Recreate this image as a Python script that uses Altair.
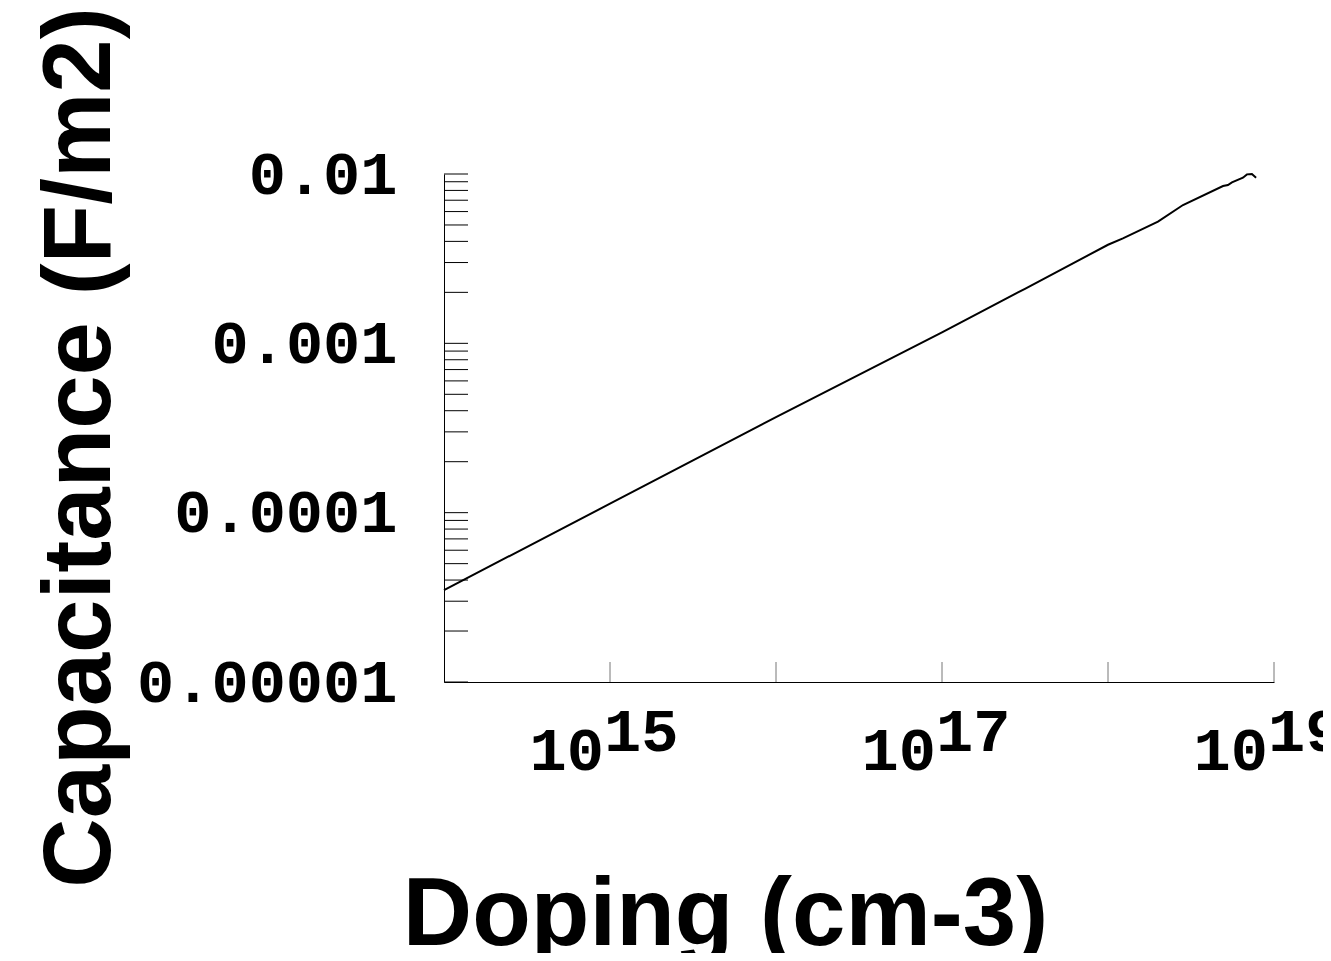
import altair as alt
import pandas as pd

# Line data
doping = [1.0e14, 1.0e15, 1.0e16, 1.0e17, 3.16e17, 1.0e18, 1.23e18, 2.0e18,
          2.83e18, 4.93e18, 5.28e18, 5.58e18, 6.50e18, 6.87e18, 7.36e18, 7.80e18]
capacitance = [3.49e-5, 1.13e-4, 3.67e-4, 1.16e-3, 2.10e-3, 3.82e-3, 4.17e-3, 5.23e-3,
               6.56e-3, 8.49e-3, 8.61e-3, 8.93e-3, 9.51e-3, 9.95e-3, 1.0e-2, 9.51e-3]

# Axis ticks / labels
x_ticks = [1e15, 1e16, 1e17, 1e18, 1e19]
x_label_values = [1e15, 1e17, 1e19]
x_label_base = ["10", "10", "10"]
x_label_exp = ["15", "17", "19"]
y_major = [1e-5, 1e-4, 1e-3, 1e-2]
y_decades = [1e-5, 1e-4, 1e-3]
y_mantissas = [1, 2, 3, 4, 5, 6, 7, 8, 9]
y_ticks = [m * d for d in y_decades for m in y_mantissas] + [1e-2]

W, H = 830, 508
TITLE_FONT = "Liberation Sans"
MONO = "Liberation Mono"

df = pd.DataFrame({"doping": doping, "capacitance": capacitance})
xt_df = pd.DataFrame({"doping": x_ticks})
yt_df = pd.DataFrame({"capacitance": y_ticks})
lab_df = pd.DataFrame({"doping": x_label_values, "base": x_label_base, "exp": x_label_exp})

xs = alt.Scale(type="log", domain=[1e14, 1e19], nice=False)
ys = alt.Scale(type="log", domain=[1e-5, 1e-2], nice=False)

line = alt.Chart(df).mark_line(color="black", strokeWidth=2, clip=False).encode(
    x=alt.X("doping:Q", scale=xs, axis=alt.Axis(
        labels=False, ticks=False, tickSize=0, grid=False,
        domainColor="black", domainWidth=1,
        title="Doping (cm-3)", titleFont=TITLE_FONT, titleFontSize=96,
        titleFontWeight="bold", titleColor="black", titleLimit=0,
        titleX=281, titleY=262, titleAlign="center", titleBaseline="alphabetic")),
    y=alt.Y("capacitance:Q", scale=ys, axis=alt.Axis(
        values=y_major, format=".5~f", ticks=False, tickSize=0, grid=False,
        labelFont=MONO, labelFontWeight="bold", labelFontSize=62, labelColor="black",
        labelPadding=47, labelAlign="right", labelBaseline="middle", labelFlush=False,
        labelOverlap=False, labelLimit=0, domainColor="black", domainWidth=1,
        title="Capacitance (F/m2)", titleFont=TITLE_FONT, titleFontSize=96,
        titleFontWeight="bold", titleColor="black", titleAngle=270, titleLimit=0,
        titleX=-335, titleY=273, titleAlign="center", titleBaseline="alphabetic")),
)

x_tick_rules = alt.Chart(xt_df).mark_rule(color="#777777", strokeWidth=1).encode(
    x=alt.X("doping:Q", scale=xs),
    y=alt.value(H - 20),
    y2=alt.value(H),
)

y_tick_rules = alt.Chart(yt_df).mark_rule(color="black", strokeWidth=1).encode(
    y=alt.Y("capacitance:Q", scale=ys),
    x=alt.value(0),
    x2=alt.value(24),
)

label_base = alt.Chart(lab_df).mark_text(
    align="right", baseline="alphabetic", dx=-6, font=MONO, fontWeight="bold",
    fontSize=62, color="black").encode(
    x=alt.X("doping:Q", scale=xs),
    y=alt.value(H + 88),
    text="base:N",
)

label_exp = alt.Chart(lab_df).mark_text(
    align="left", baseline="alphabetic", dx=-6, font=MONO, fontWeight="bold",
    fontSize=62, color="black").encode(
    x=alt.X("doping:Q", scale=xs),
    y=alt.value(H + 69),
    text="exp:N",
)

chart = alt.layer(line, x_tick_rules, y_tick_rules, label_base, label_exp).properties(
    width=W, height=H,
    autosize=alt.AutoSizeParams(type="none"),
    padding={"left": 436, "top": 166, "right": 49, "bottom": 271},
    background="white",
).configure_view(stroke=None)

chart.save("out.html", embed_options={"renderer": "svg", "actions": False})
